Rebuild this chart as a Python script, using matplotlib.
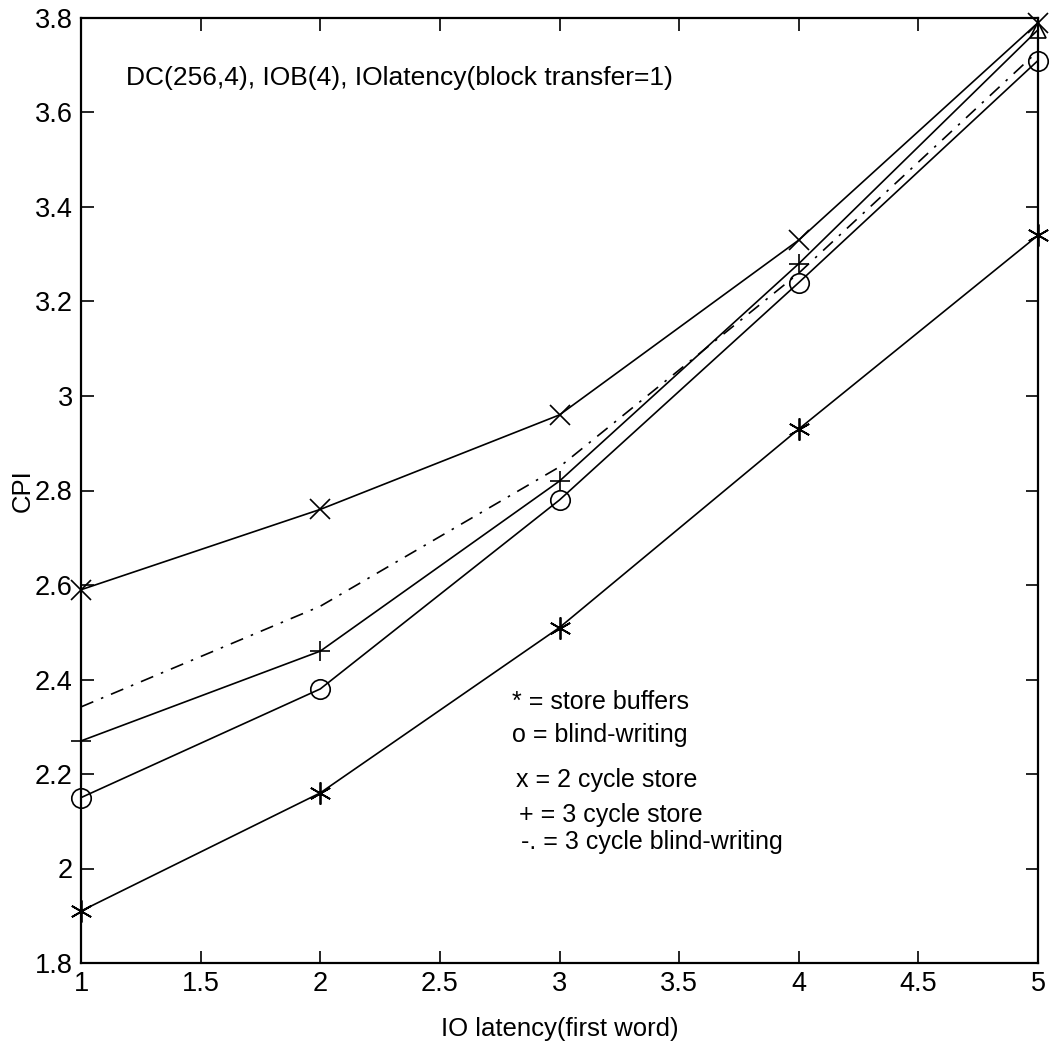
import matplotlib
matplotlib.use("Agg")
import matplotlib.pyplot as plt
from matplotlib import font_manager

# Prefer a narrow Helvetica-like face when available
names = {f.name for f in font_manager.fontManager.ttflist}
family = "Liberation Sans Narrow" if "Liberation Sans Narrow" in names else "Liberation Sans"
plt.rcParams["font.family"] = [family, "DejaVu Sans"]

latency = [1, 2, 3, 4, 5]
store_buffers = [1.91, 2.16, 2.51, 2.93, 3.34]
blind_writing = [2.15, 2.38, 2.78, 3.24, 3.71]
two_cycle_store = [2.59, 2.76, 2.96, 3.33, 3.79]
three_cycle_store = [2.27, 2.46, 2.82, 3.28, 3.775]
three_cycle_blind = [2.342, 2.555, 2.85, 3.26, 3.73]

x_ticks = [1, 1.5, 2, 2.5, 3, 3.5, 4, 4.5, 5]
y_ticks = [1.8, 2, 2.2, 2.4, 2.6, 2.8, 3, 3.2, 3.4, 3.6, 3.8]
x_ticklabels = ["1", "1.5", "2", "2.5", "3", "3.5", "4", "4.5", "5"]
y_ticklabels = ["1.8", "2", "2.2", "2.4", "2.6", "2.8", "3", "3.2", "3.4", "3.6", "3.8"]

fig = plt.figure(figsize=(10.52, 10.49), dpi=100)
ax = fig.add_axes([81 / 1052, 86 / 1049, 957 / 1052, 945 / 1049])

lw = 1.2
ax.plot(latency, store_buffers, color="black", lw=lw, marker=(6, 2, 0),
        ms=16, mew=1.3, clip_on=False)
ax.plot(latency, blind_writing, color="black", lw=lw, marker="o", ms=14,
        mfc="none", mew=1.2, clip_on=False)
ax.plot(latency, two_cycle_store, color="black", lw=lw, marker="x", ms=15,
        mew=1.2, clip_on=False)
ax.plot(latency, three_cycle_store, color="black", lw=lw, marker="+", ms=14,
        mew=1.2, markevery=[0, 1, 2, 3], clip_on=False)
ax.plot(latency[-1:], three_cycle_store[-1:], ls="none", color="black",
        marker="^", ms=12, mfc="none", mew=1.2, clip_on=False)
ax.plot(latency, three_cycle_blind, color="black", lw=lw,
        ls=(0, (8, 5, 1.5, 5)))

ax.set_xlim(1, 5)
ax.set_ylim(1.8, 3.8)
ax.set_xticks(x_ticks)
ax.set_xticklabels(x_ticklabels)
ax.set_yticks(y_ticks)
ax.set_yticklabels(y_ticklabels)
ax.tick_params(direction="in", length=9, width=1.2, labelsize=19.5,
               top=True, right=True, pad=6)
for s in ax.spines.values():
    s.set_linewidth(1.6)

ax.set_xlabel("IO latency(first word)", fontsize=18.5, labelpad=14)
ax.set_ylabel("CPI", fontsize=18.5, labelpad=0)

ax.text(1.19, 3.673, "DC(256,4), IOB(4), IOlatency(block transfer=1)",
        fontsize=19, va="center", ha="left")

legend_lines = [
    (2.80, 2.352, "* = store buffers"),
    (2.80, 2.283, "o = blind-writing"),
    (2.82, 2.187, "x = 2 cycle store"),
    (2.83, 2.113, "+ = 3 cycle store"),
    (2.84, 2.056, "-. = 3 cycle blind-writing"),
]
for tx, ty, s in legend_lines:
    ax.text(tx, ty, s, fontsize=18, va="center", ha="left")

fig.savefig("out.png", dpi=100)
